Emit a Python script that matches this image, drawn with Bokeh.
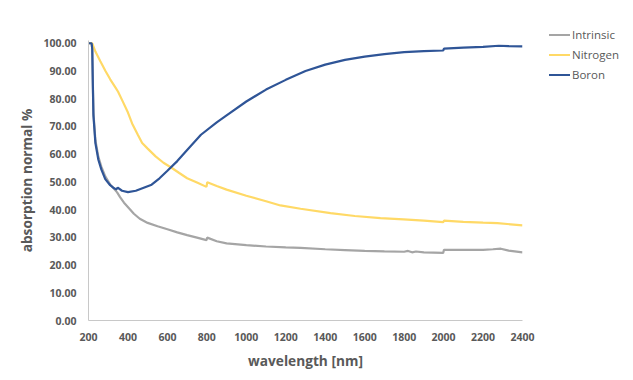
from bokeh.plotting import figure
from bokeh.models import Range1d, FixedTicker, NumeralTickFormatter, Div
from bokeh.layouts import row
from bokeh.embed import file_html
from bokeh.resources import INLINE

# ---- data ----
intrinsic_wl = [200, 216, 219, 222, 225, 235, 250, 265, 285, 310, 330, 345, 360, 380, 404, 430, 460,
                500, 550, 600, 650, 700, 750, 798, 802, 850, 900, 1000, 1100, 1200, 1275, 1400,
                1500, 1600, 1700, 1800, 1820, 1840, 1860, 1900, 1998, 2002, 2100, 2200, 2250, 2290,
                2330, 2400]
intrinsic = [100, 100, 98, 86, 75, 65, 59, 55.5, 52, 49, 47.5, 46.2, 44.5, 42.5, 40.6, 38.5, 36.7,
             35.2, 34.0, 32.9, 31.8, 30.8, 29.9, 29.0, 29.9, 28.6, 27.8, 27.2, 26.7, 26.4, 26.2,
             25.7, 25.4, 25.1, 24.9, 24.8, 25.1, 24.6, 24.9, 24.6, 24.4, 25.5, 25.5, 25.5, 25.7, 25.9,
             25.2, 24.6]

nitrogen_wl = [200, 219, 235, 260, 286, 310, 337, 350, 371, 400, 421, 450, 472, 500, 540, 580, 619,
               660, 700, 750, 798, 802, 850, 900, 1000, 1100, 1173, 1275, 1427, 1550, 1680, 1797,
               1900, 1998, 2002, 2100, 2200, 2273, 2340, 2400]
nitrogen = [100, 100, 97, 93.5, 90, 87, 84, 82.5, 79.4, 75, 71.1, 67, 64, 62, 59.2, 56.9, 55.2,
            53.2, 51.3, 49.8, 48.2, 49.9, 48.5, 47.2, 45, 43, 41.5, 40.3, 38.7, 37.7, 36.9, 36.5,
            36.0, 35.5, 36.0, 35.6, 35.3, 35.1, 34.7, 34.3]

boron_wl = [200, 216, 219, 222, 225, 235, 250, 265, 285, 310, 330, 340, 348, 370, 400, 440, 480,
            520, 560, 600, 650, 700, 770, 850, 900, 1000, 1100, 1200, 1300, 1400, 1500, 1600, 1700,
            1800, 1900, 1998, 2002, 2100, 2200, 2280, 2330, 2400]
boron = [100, 100, 98, 85, 74, 64, 58, 54.5, 51, 48.8, 47.7, 47.3, 47.9, 46.8, 46.3, 46.8, 47.9,
         49.0, 51.3, 54, 57.5, 61.5, 67, 71.5, 74, 79, 83.3, 86.8, 90, 92.3, 94, 95.2, 96.1,
         96.8, 97.2, 97.4, 98.1, 98.4, 98.7, 99.1, 99.0, 98.9]

series_names = ["Intrinsic", "Nitrogen", "Boron"]
series_colors = ["#A5A5A5", "#FFD966", "#2F5597"]

x_ticks = list(range(200, 2401, 200))
y_ticks = list(range(0, 101, 10))

TXT = "#595959"
FONT = "Open Sans"
H = 372

p = figure(width=540, height=H, output_backend="svg", toolbar_location=None,
           x_range=Range1d(200, 2400), y_range=Range1d(0, 101),
           min_border_left=88, min_border_right=18, min_border_top=40, min_border_bottom=46)
p.outline_line_color = None
p.xgrid.visible = False
p.ygrid.visible = False

for wl, vals, col in zip([intrinsic_wl, nitrogen_wl, boron_wl], [intrinsic, nitrogen, boron], series_colors):
    p.line(wl, vals, line_color=col, line_width=2.2)

for ax in (p.xaxis[0], p.yaxis[0]):
    ax.axis_line_color = "#C8C8C8"
    ax.axis_line_width = 1
    ax.major_tick_line_color = None
    ax.minor_tick_line_color = None
    ax.major_tick_out = 0
    ax.major_tick_in = 0
    ax.major_label_text_color = TXT
    ax.major_label_text_font = FONT
    ax.major_label_text_font_style = "bold"
    ax.major_label_text_font_size = "10.5px"
    ax.axis_label_text_color = TXT
    ax.axis_label_text_font = FONT
    ax.axis_label_text_font_style = "bold"
    ax.axis_label_text_font_size = "13.7px"

p.xaxis.ticker = FixedTicker(ticks=x_ticks)
p.yaxis.ticker = FixedTicker(ticks=y_ticks)
p.yaxis.formatter = NumeralTickFormatter(format="0.00")
p.xaxis.axis_label = "wavelength [nm]"
p.yaxis.axis_label = "absorption normal %"
p.xaxis.major_label_standoff = 12
p.yaxis.major_label_standoff = 12
p.xaxis.axis_label_standoff = 7
p.yaxis.axis_label_standoff = 4

# legend (series name + line swatch), placed to the right of the chart
entries = []
for i, (name, col) in enumerate(zip(series_names, series_colors)):
    entries.append(
        f'<div style="position:absolute;left:9px;top:{25 + 20 * i}px;height:20px;'
        f'display:flex;align-items:center;white-space:nowrap;">'
        f'<span style="display:inline-block;width:21px;height:0;border-top:2px solid {col};'
        f'margin-right:2px;"></span>{name}</div>')
legend_html = (f'<div style="position:relative;width:85px;height:{H}px;font-family:\'{FONT}\';'
               f'font-size:11.5px;color:{TXT};">' + "".join(entries) + '</div>')
lg = Div(text=legend_html, width=85, height=H, margin=0)

layout = row(p, lg)
open("out.html", "w").write(file_html(layout, INLINE))
